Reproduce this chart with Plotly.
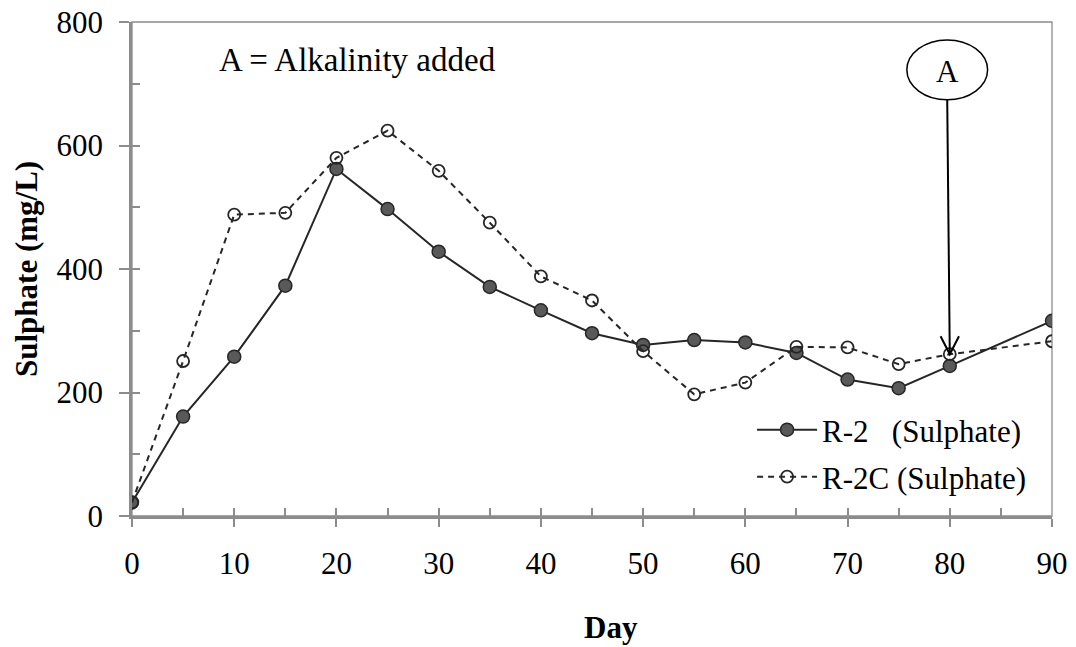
import plotly.graph_objects as go

days = [0, 5, 10, 15, 20, 25, 30, 35, 40, 45, 50, 55, 60, 65, 70, 75, 80, 90]
r2_sulphate = [22, 161, 258, 373, 562, 497, 428, 371, 333, 296, 277, 285, 281, 264, 221, 207, 243, 316]
r2c_sulphate = [22, 251, 488, 491, 580, 624, 559, 475, 388, 349, 267, 197, 216, 274, 273, 246, 262, 283]
x_ticks = [0, 10, 20, 30, 40, 50, 60, 70, 80, 90]
y_ticks = [0, 200, 400, 600, 800]
alk_day = 80

FONT = "Liberation Serif"
AX = "#8c8c8c"
FS = 31

fig = go.Figure()
fig.add_trace(go.Scatter(
    x=days, y=r2_sulphate, name="R-2   (Sulphate)", mode="lines+markers", legend="legend",
    line=dict(color="#262626", width=2),
    marker=dict(symbol="circle", size=13, color="#595959", line=dict(color="#262626", width=1.5)),
))
fig.add_trace(go.Scatter(
    x=days, y=r2c_sulphate, name="R-2C (Sulphate)", mode="lines+markers", legend="legend2",
    line=dict(color="#262626", width=2, dash="6px,5px"),
    marker=dict(symbol="circle-open", size=12, color="#262626", line=dict(width=1.8)),
))

# frame (top/right)
fig.add_shape(type="rect", xref="paper", yref="paper", x0=0, x1=1, y0=0, y1=1,
              line=dict(color=AX, width=1.3), layer="below")

# annotation A
ay = r2c_sulphate[days.index(alk_day)]
fig.add_shape(type="circle", xref="x", yref="y", x0=75.8, x1=83.7, y0=674, y1=771,
              line=dict(color="black", width=1.5), fillcolor="white")
fig.add_annotation(x=79.75, y=720, xref="x", yref="y", text="A", showarrow=False,
                   font=dict(family=FONT, size=FS, color="black"))
fig.add_shape(type="line", xref="x", yref="y", x0=79.75, x1=alk_day, y0=674, y1=ay,
              line=dict(color="black", width=2))
fig.add_shape(type="path", xref="x", yref="y",
              path=f"M {alk_day-0.9},{ay+29} L {alk_day},{ay} L {alk_day+0.9},{ay+29}",
              line=dict(color="black", width=2))
fig.add_annotation(x=0.092, y=0.924, xref="paper", yref="paper", xanchor="left", yanchor="middle",
                   text="A = Alkalinity added", showarrow=False,
                   font=dict(family=FONT, size=33, color="black"))

# axis titles
fig.add_annotation(x=0.521, y=-0.2267, xref="paper", yref="paper", xanchor="center", yanchor="middle",
                   text="<b>Day</b>", showarrow=False, font=dict(family=FONT, size=FS, color="black"))
fig.add_annotation(x=-0.1152, y=0.5, xref="paper", yref="paper", xanchor="center", yanchor="middle",
                   text="<b>Sulphate (mg/L)</b>", textangle=-90, showarrow=False,
                   font=dict(family=FONT, size=FS, color="black"))

leg_common = dict(xanchor="left", yanchor="middle", bgcolor="rgba(0,0,0,0)",
                  font=dict(family=FONT, size=FS, color="black"), itemwidth=60)

fig.update_layout(
    width=1076, height=647,
    margin=dict(l=132, r=24, t=22, b=131, autoexpand=False),
    paper_bgcolor="white", plot_bgcolor="white",
    font=dict(family=FONT, size=FS, color="black"),
    showlegend=True,
    legend=dict(x=0.674, y=(430 - 22) / 494 * -1 + 1, **leg_common),
    legend2=dict(x=0.674, y=(477 - 22) / 494 * -1 + 1, **leg_common),
    xaxis=dict(range=[0, 90], tickvals=x_ticks, showgrid=False, zeroline=False,
               showline=True, linecolor=AX, linewidth=2.5, automargin=False,
               ticks="outside", ticklen=8, tickwidth=2, tickcolor=AX,
               ticklabelstandoff=10, tickfont=dict(size=FS), ticklabeloverflow="allow"),
    yaxis=dict(range=[0, 800], tickvals=y_ticks, showgrid=False, zeroline=False,
               showline=True, linecolor=AX, linewidth=2.5, automargin=False,
               ticks="outside", ticklen=10, tickwidth=2, tickcolor=AX,
               ticklabelstandoff=10, tickfont=dict(size=FS), ticklabeloverflow="allow"),
    xaxis2=dict(range=[0, 90], overlaying="x", anchor="y", side="bottom", dtick=5, tick0=0,
                showticklabels=False, ticks="inside", ticklen=8, tickwidth=2, tickcolor=AX,
                showgrid=False, zeroline=False, showline=False, automargin=False),
    yaxis2=dict(range=[0, 800], overlaying="y", anchor="x", side="left", dtick=100, tick0=0,
                showticklabels=False, ticks="inside", ticklen=8, tickwidth=2, tickcolor=AX,
                showgrid=False, zeroline=False, showline=False, automargin=False),
)
fig.add_trace(go.Scatter(x=[None], y=[None], xaxis="x2", yaxis="y2", showlegend=False, hoverinfo="skip"))

fig.write_html("out.html", config={"displayModeBar": False},
               post_script="document.body.style.margin='0px';document.body.style.overflow='hidden';")
